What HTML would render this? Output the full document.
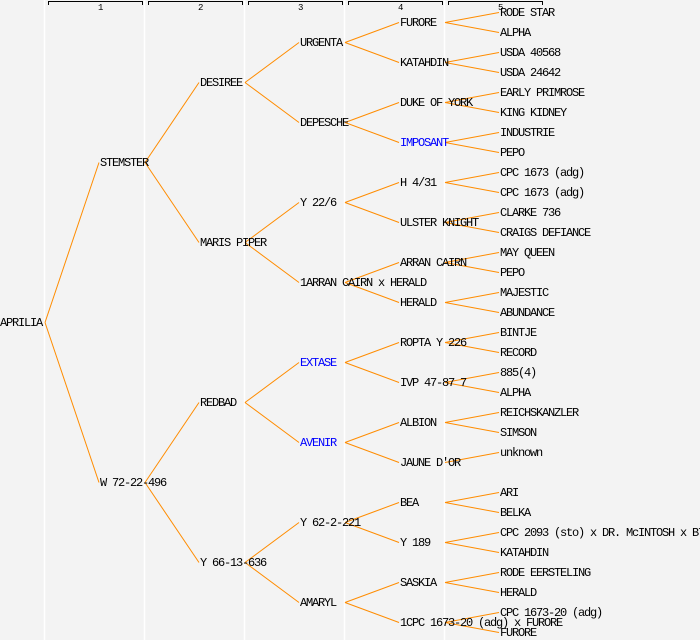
<!DOCTYPE html>
<html><head><meta charset="utf-8"><style>
html,body{margin:0;padding:0;background:#f3f3f3;}
svg{display:block}
text{font-family:"Liberation Mono",monospace;font-size:12px;letter-spacing:-1.2px;fill:#000}
.b{fill:#0000ff}
.n{font-size:9px;letter-spacing:0}
</style></head><body>
<svg id="s" width="700" height="640" xmlns="http://www.w3.org/2000/svg">
<rect width="700" height="640" fill="#f3f3f3"/>
<g stroke="#fff" stroke-width="1.5">
<line x1="44.5" y1="0" x2="44.5" y2="640"/><line x1="144.5" y1="0" x2="144.5" y2="640"/><line x1="244.5" y1="0" x2="244.5" y2="640"/><line x1="344.5" y1="0" x2="344.5" y2="640"/><line x1="444.5" y1="0" x2="444.5" y2="640"/>
</g>
<g stroke="#000" fill="none" stroke-width="1">
<path d="M48.5 5V1.5H142.5V5"/><path d="M148.5 5V1.5H242.5V5"/><path d="M248.5 5V1.5H342.5V5"/><path d="M348.5 5V1.5H442.5V5"/><path d="M448.5 5V1.5H542.5V5"/>
</g>
<text class="n" x="98" y="10">1</text><text class="n" x="198" y="10">2</text><text class="n" x="298" y="10">3</text><text class="n" x="398" y="10">4</text><text class="n" x="498" y="10">5</text>
<g id="L" stroke="#ff8c00" stroke-width="1" fill="none"></g>
<text x="0" y="326">APRILIA</text>
<text x="100" y="166">STEMSTER</text>
<text x="100" y="486">W 72-22-496</text>
<text x="200" y="86">DESIREE</text>
<text x="200" y="246">MARIS PIPER</text>
<text x="200" y="406">REDBAD</text>
<text x="200" y="566">Y 66-13-636</text>
<text x="300" y="46">URGENTA</text>
<text x="300" y="126">DEPESCHE</text>
<text x="300" y="206">Y 22/6</text>
<text x="300" y="286">1ARRAN CAIRN x HERALD</text>
<text x="300" y="366" class="b">EXTASE</text>
<text x="300" y="446" class="b">AVENIR</text>
<text x="300" y="526">Y 62-2-221</text>
<text x="300" y="606">AMARYL</text>
<text x="400" y="26">FURORE</text>
<text x="400" y="66">KATAHDIN</text>
<text x="400" y="106">DUKE OF YORK</text>
<text x="400" y="146" class="b">IMPOSANT</text>
<text x="400" y="186">H 4/31</text>
<text x="400" y="226">ULSTER KNIGHT</text>
<text x="400" y="266">ARRAN CAIRN</text>
<text x="400" y="306">HERALD</text>
<text x="400" y="346">ROPTA Y 226</text>
<text x="400" y="386">IVP 47-87 7</text>
<text x="400" y="426">ALBION</text>
<text x="400" y="466">JAUNE D'OR</text>
<text x="400" y="506">BEA</text>
<text x="400" y="546">Y 189</text>
<text x="400" y="586">SASKIA</text>
<text x="400" y="626">1CPC 1673-20 (adg) x FURORE</text>
<text x="500" y="16">RODE STAR</text>
<text x="500" y="36">ALPHA</text>
<text x="500" y="56">USDA 40568</text>
<text x="500" y="76">USDA 24642</text>
<text x="500" y="96">EARLY PRIMROSE</text>
<text x="500" y="116">KING KIDNEY</text>
<text x="500" y="136">INDUSTRIE</text>
<text x="500" y="156">PEPO</text>
<text x="500" y="176">CPC 1673 (adg)</text>
<text x="500" y="196">CPC 1673 (adg)</text>
<text x="500" y="216">CLARKE 736</text>
<text x="500" y="236">CRAIGS DEFIANCE</text>
<text x="500" y="256">MAY QUEEN</text>
<text x="500" y="276">PEPO</text>
<text x="500" y="296">MAJESTIC</text>
<text x="500" y="316">ABUNDANCE</text>
<text x="500" y="336">BINTJE</text>
<text x="500" y="356">RECORD</text>
<text x="500" y="376">885(4)</text>
<text x="500" y="396">ALPHA</text>
<text x="500" y="416">REICHSKANZLER</text>
<text x="500" y="436">SIMSON</text>
<text x="500" y="456">unknown</text>
<text x="500" y="496">ARI</text>
<text x="500" y="516">BELKA</text>
<text x="500" y="536">CPC 2093 (sto) x DR. McINTOSH x B7</text>
<text x="500" y="556">KATAHDIN</text>
<text x="500" y="576">RODE EERSTELING</text>
<text x="500" y="596">HERALD</text>
<text x="500" y="616">CPC 1673-20 (adg)</text>
<text x="500" y="636">FURORE</text>
</svg>
<script>
var g=document.getElementById('L'),ns='http://www.w3.org/2000/svg';
function ln(px,py,cx,cy){var l=document.createElementNS(ns,'line');l.setAttribute('x1',px+45);l.setAttribute('y1',py+0.5);l.setAttribute('x2',cx-1);l.setAttribute('y2',cy+0.5);g.appendChild(l);}
ln(0,322,100,162);ln(0,322,100,482);
var l1=[162,482],l2=[82,242,402,562],l3=[42,122,202,282,362,442,522,602];
for(var i=0;i<2;i++){ln(100,l1[i],200,l2[2*i]);ln(100,l1[i],200,l2[2*i+1]);}
for(i=0;i<4;i++){ln(200,l2[i],300,l3[2*i]);ln(200,l2[i],300,l3[2*i+1]);}
for(i=0;i<8;i++){ln(300,l3[i],400,22+80*i);ln(300,l3[i],400,62+80*i);}
for(i=0;i<16;i++){var y=22+40*i;ln(400,y,500,y-10);if(i!=11)ln(400,y,500,y+10);}
</script>
</body></html>
